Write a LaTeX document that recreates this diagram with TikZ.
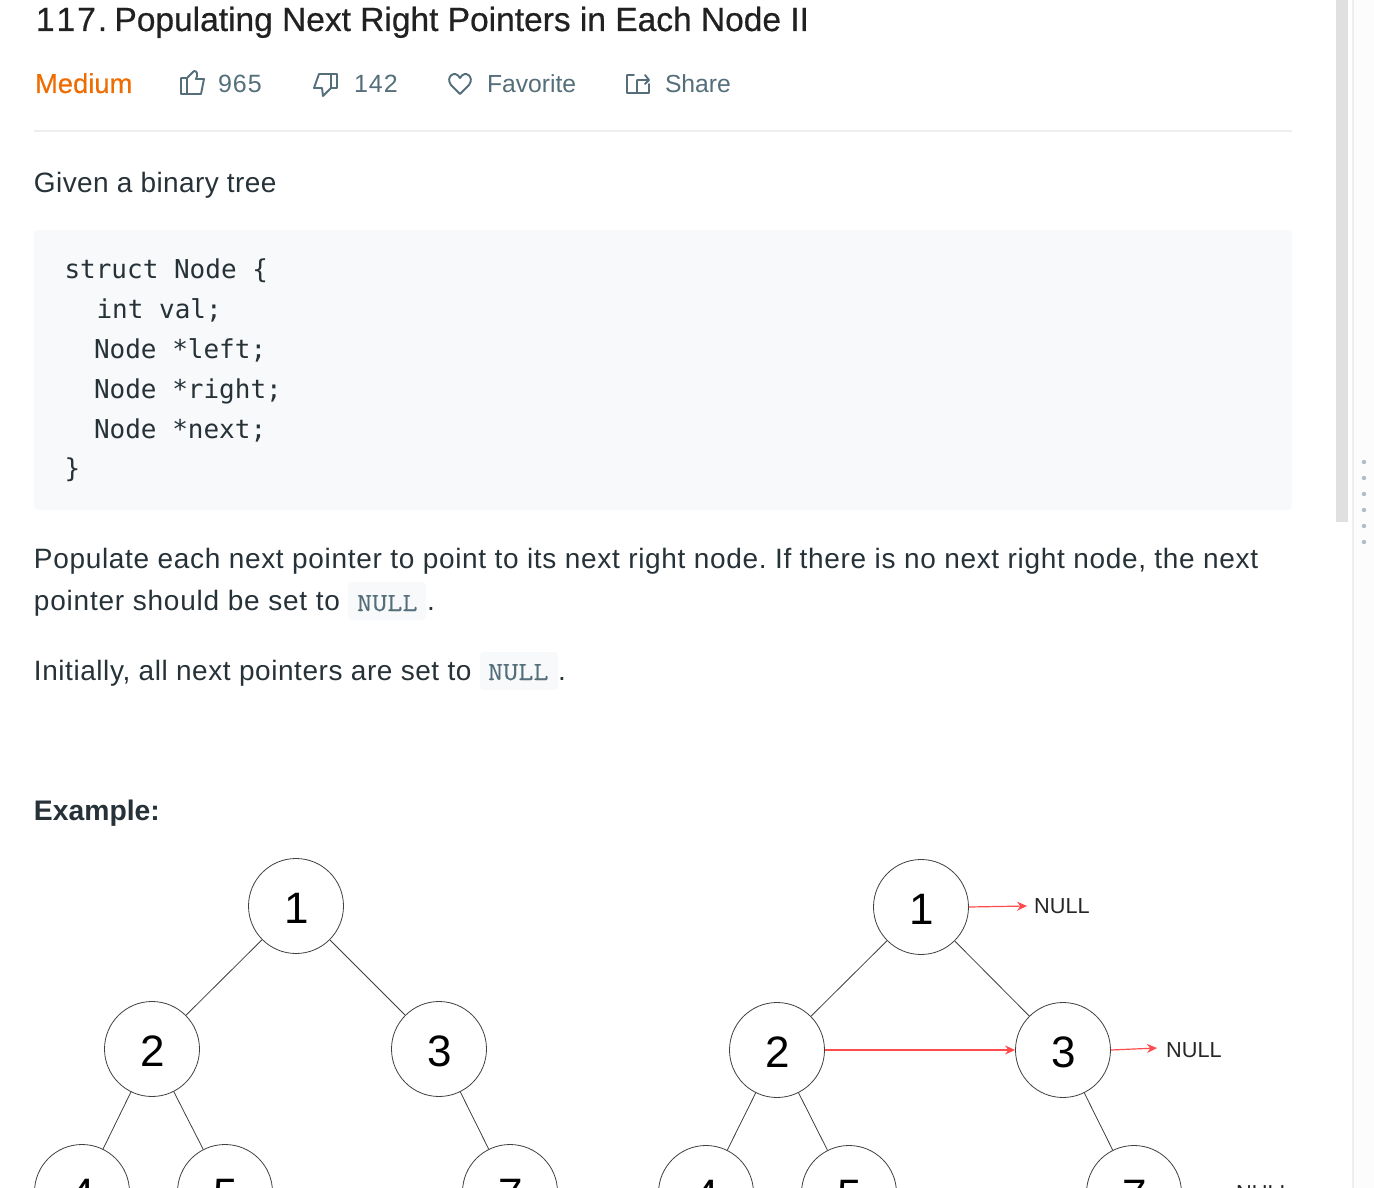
\documentclass[tikz,border=0pt]{standalone}
\usepackage{fontspec}
\setmainfont{Liberation Sans}
\newfontfamily\bodyfont[LetterSpace=2]{Liberation Sans}
\newfontfamily\numfont[LetterSpace=4]{Liberation Sans}
\newfontfamily\titlefont[FakeBold=0.5]{Liberation Sans}
\newfontfamily\medfont[FakeBold=0.2]{Liberation Sans}
\newfontfamily\codefont{DejaVu Sans Mono}
\newfontfamily\inlfont[FakeStretch=1.13,FakeBold=0.3]{Latin Modern Mono}
\usetikzlibrary{arrows.meta}
\definecolor{ink}{HTML}{263238}
\definecolor{titleink}{HTML}{212121}
\definecolor{slate}{HTML}{546E7A}
\definecolor{orangem}{HTML}{EF6C00}
\definecolor{codebg}{HTML}{F7F9FA}
\definecolor{rulec}{HTML}{EEEEEE}
\definecolor{barc}{HTML}{E0E0E0}
\definecolor{dotc}{HTML}{B0BEC5}
\definecolor{redline}{HTML}{FF4B4B}
\definecolor{stripc}{HTML}{FCFCFC}
\tikzset{
  x=1pt,y=-1pt,
  txt/.style={anchor=base west,inner sep=0pt,outer sep=0pt},
  body/.style={txt,text=ink,font=\fontsize{28}{28}\bodyfont\frenchspacing},
  meta/.style={txt,text=slate,font=\fontsize{24.7}{25}\selectfont},
  metanum/.style={txt,text=slate,font=\fontsize{25}{25}\numfont},
  code/.style={txt,text=ink,font=\fontsize{26}{26}\codefont},
  inl/.style={txt,text=slate,font=\fontsize{26}{26}\inlfont},
  tnode/.style={circle,draw=black!75,line width=.8pt,minimum size=95pt,inner sep=0pt,text height=34pt,text depth=0pt,execute at begin node={\kern2pt},font=\fontsize{44}{44}\selectfont},
  edge/.style={draw=black!75,line width=.8pt},
  nextp/.style={draw=redline,line width=1.2pt,-{Stealth[length=10pt,width=9pt]}},
  nlab/.style={inner sep=0pt,font=\fontsize{21.7}{22}\selectfont,text=black!85,anchor=base west},
  icon/.style={draw=slate,line width=1.9pt,line join=round,line cap=round},
  pill/.style={fill=codebg,rounded corners=4pt,draw=none}
}
\begin{document}
\begin{tikzpicture}
\useasboundingbox (0,0) rectangle (1374,1188);
\clip (0,0) rectangle (1374,1188);
\fill[white] (0,0) rectangle (1374,1188);
% scroll bars
\fill[barc] (1336,0) rectangle (1348,522);
\fill[stripc] (1354,0) rectangle (1374,1188);
\fill[rulec] (1352,0) rectangle (1354,1188);
\foreach \yy in {462,478,494,510,526,542} \fill[dotc] (1364,\yy) circle (2.2pt);
% header
\node[txt,text=titleink,font=\fontsize{33.5}{34}\titlefont\frenchspacing] (title) at (36,31) {1\kern2pt 1\kern2pt 7\kern2pt.\kern-2pt{} Populating Next Right Pointers in Each Node II};
\node[txt,text=orangem,font=\fontsize{27.4}{27}\medfont] (medium) at (35,93) {Medium};
\draw[icon] (181,78) rectangle (187,94) (187,78) -- (193,72) .. controls (194,70) and (198,71) .. (197,76) -- (196,79) -- (204,79) -- (201,94) -- (187,94);
\node[metanum] (likes) at (218,93) {965};
\draw[icon] (337,74) rectangle (331,88) (331,74) -- (319,74) -- (314,88) -- (322,88) -- (323,96) -- (331,88);
\node[metanum] (dislikes) at (354,93) {142};
\draw[icon] (460,94) -- (451,85) .. controls (445,77) and (455,69) .. (460,78) .. controls (465,69) and (475,77) .. (469,85) -- cycle;
\node[meta] (fav) at (487,93) {Favorite};
\draw[icon] (634,75) -- (627,75) -- (627,93) -- (649,93) -- (649,84) (637,93) -- (637,80) -- (649,80) (645,75) -- (649,80) -- (645,84);
\node[meta] (share) at (665,93) {Share};
\fill[rulec] (34,130) rectangle (1292,132);
\node[body] (given) at (34,193) {\addfontfeature{LetterSpace=1.4}Given a binary tree};
% code block
\fill[codebg,rounded corners=4pt] (34,230) rectangle (1292,510);
\node[code] (c1) at (64.5,278) {struct Node \{};
\node[code] (c2) at (96.5,318) {int val;};
\node[code] (c3) at (94,358) {Node *left;};
\node[code] (c4) at (94,398) {Node *right;};
\node[code] (c5) at (94,438) {Node *next;};
\node[code] (c6) at (64.5,477) {\}};
% paragraphs
\node[body] (p1) at (34,568) {\addfontfeature{LetterSpace=2.4}Populate each next pointer to point to its next right node. If there is no next right node, the next};
\node[body] (p2) at (34,610) {\addfontfeature{LetterSpace=2.8}pointer should be set to};
\fill[pill] (348,582) rectangle (426,620);
\node[inl] (n1) at (357,611) {NULL};
\node[body] (d1) at (427,610) {.};
\node[body] (p3) at (34,680) {Initially, all next pointers are set to};
\fill[pill] (480,652) rectangle (558,690);
\node[inl] (n2) at (488,680) {NULL};
\node[body] (d2) at (558,680) {.};
\node[txt,text=ink,font=\fontsize{28.3}{28}\selectfont\bfseries] (ex) at (34,820) {Example:};
% left tree
\node[tnode] (a1) at (296,906) {1};
\node[tnode] (a2) at (152,1049) {2};
\node[tnode] (a3) at (439,1049) {3};
\node[tnode] (a4) at (82,1192) {4};
\node[tnode] (a5) at (225,1192) {5};
\node[tnode] (a7) at (510,1192) {7};
\draw[edge] (a1)--(a2);\draw[edge] (a1)--(a3);\draw[edge] (a2)--(a4);\draw[edge] (a2)--(a5);\draw[edge] (a3)--(a7);
% right tree
\node[tnode] (b1) at (921,907) {1};
\node[tnode] (b2) at (777,1050) {2};
\node[tnode] (b3) at (1063,1050) {3};
\node[tnode] (b4) at (706,1193) {4};
\node[tnode] (b5) at (849,1193) {5};
\node[tnode] (b7) at (1134,1193) {7};
\draw[edge] (b1)--(b2);\draw[edge] (b1)--(b3);\draw[edge] (b2)--(b4);\draw[edge] (b2)--(b5);\draw[edge] (b3)--(b7);
\node[nlab] (nu1) at (1034,913) {NULL};
\node[nlab] (nu2) at (1166,1057) {NULL};
\node[nlab] (nu3) at (1236,1200) {NULL};
\coordinate (e1) at (1027,906);
\coordinate (e2) at (1157,1048);
\draw[nextp] (b1.east) -- (e1);
\draw[nextp] (b2) -- (b3);
\draw[nextp] (b3.east) -- (e2);
\end{tikzpicture}
\end{document}
